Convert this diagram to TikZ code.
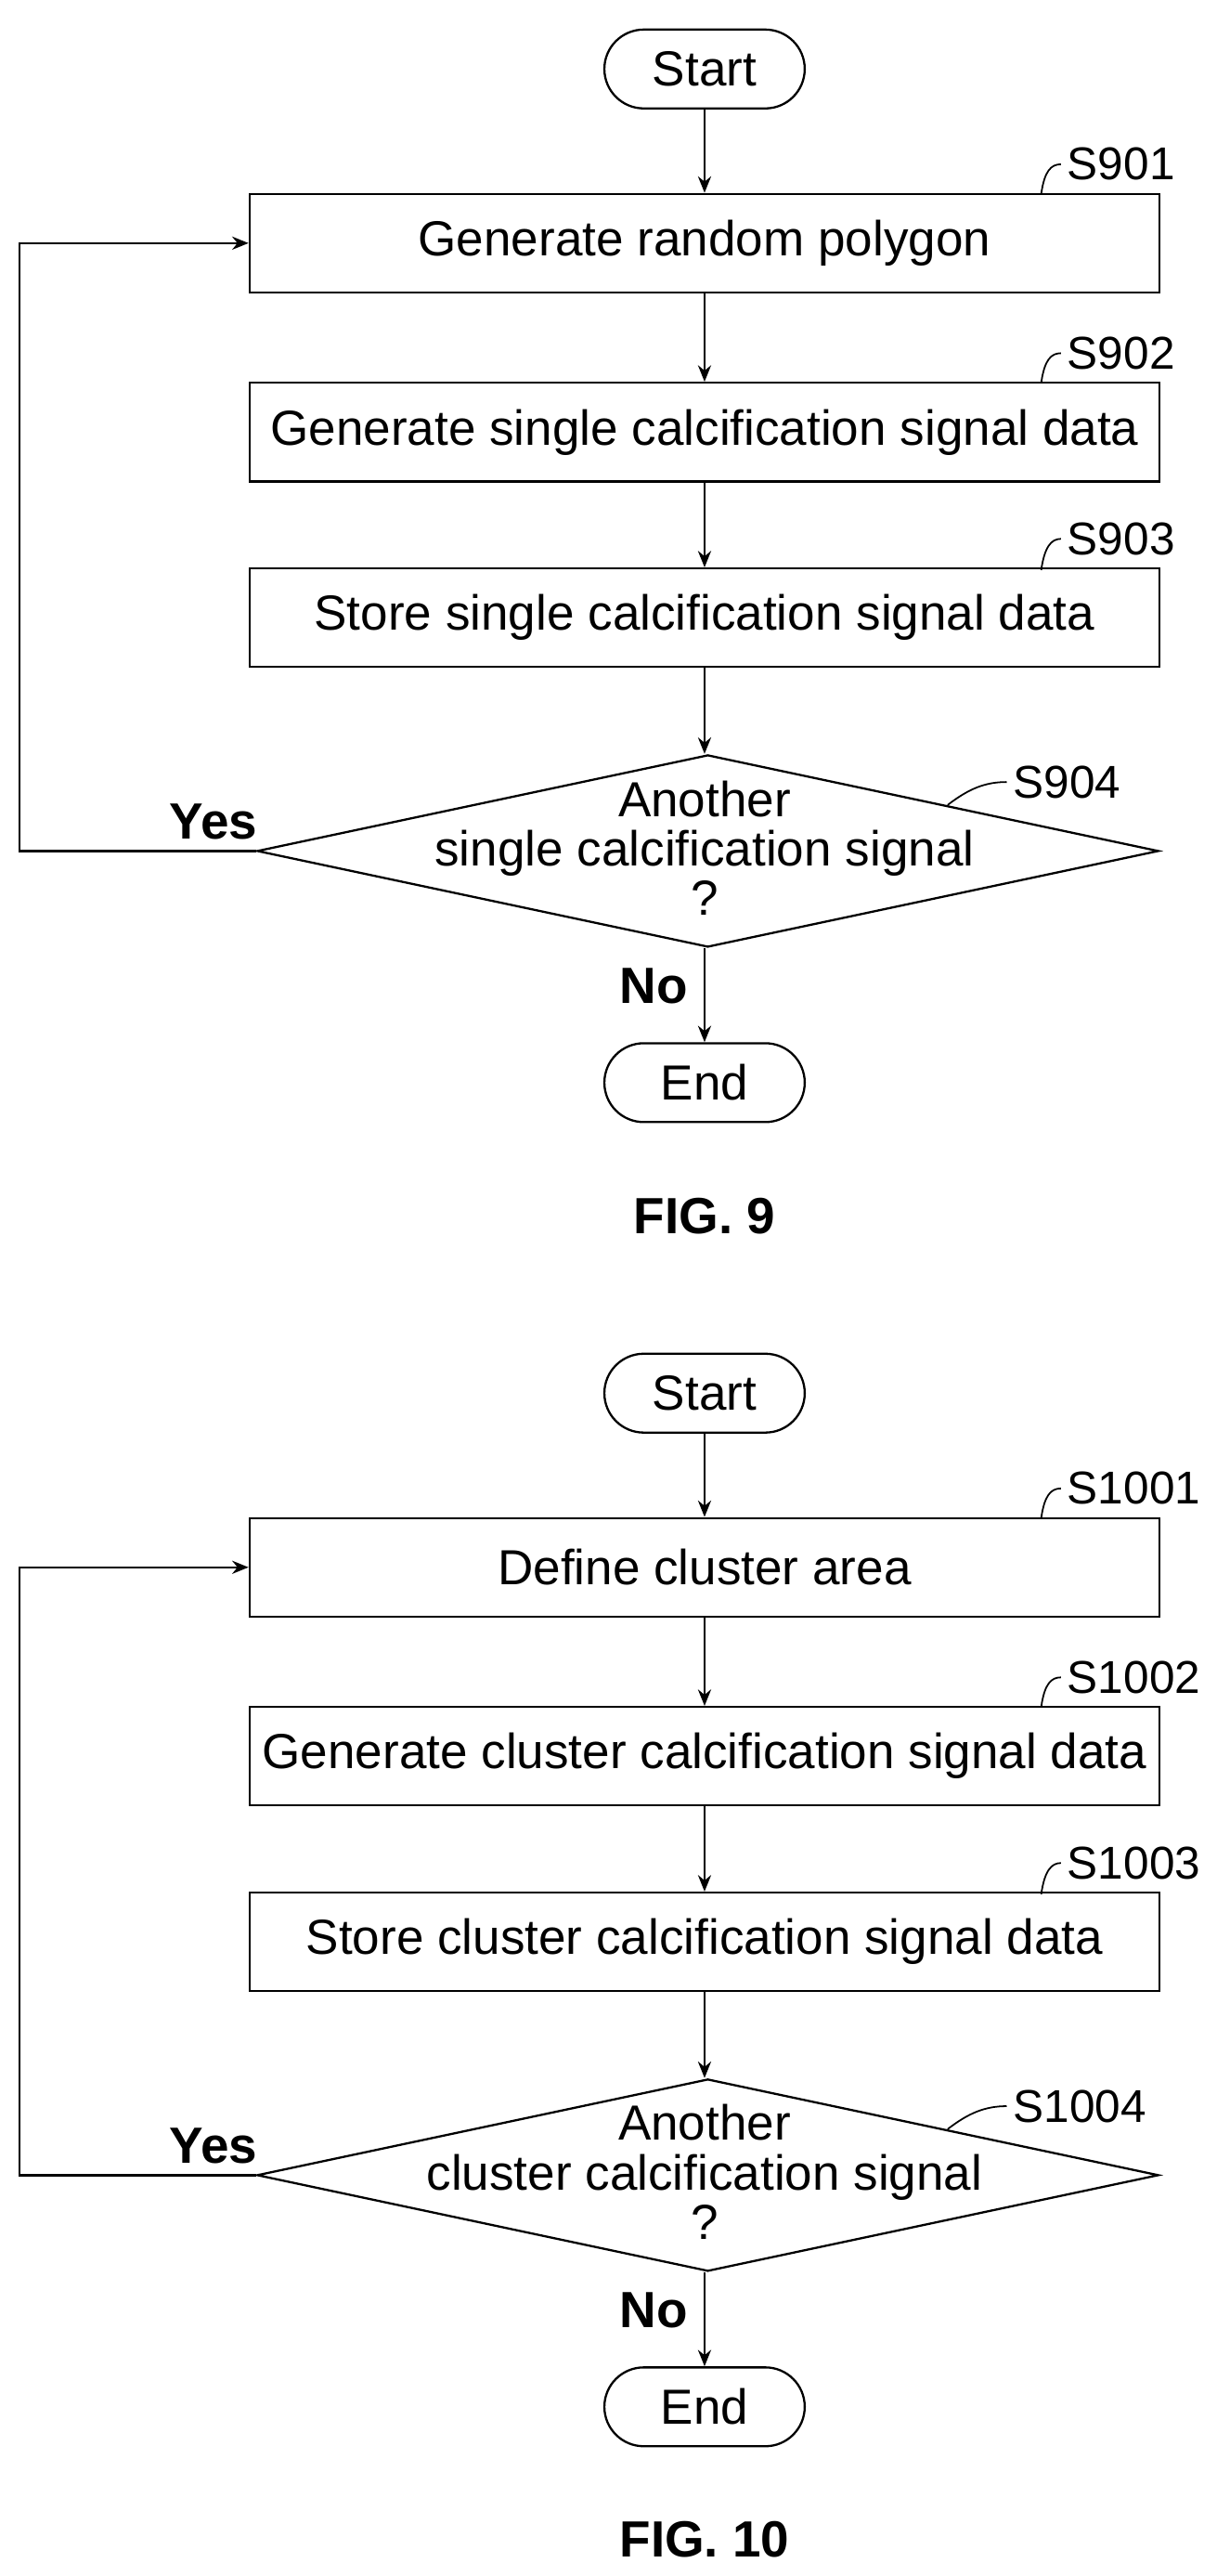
\documentclass[tikz,border=0pt]{standalone}
\usepackage{fontspec}
\setmainfont{Liberation Sans}
\usetikzlibrary{shapes.geometric,arrows.meta}
\begin{document}
\begin{tikzpicture}[x=1pt,y=-1pt,line width=1.3pt,
  txt/.style={font=\fontsize{30}{34}\selectfont},
  box/.style={draw,txt,minimum width=554pt,minimum height=60pt,inner sep=0pt},
  pill/.style={draw,txt,rounded corners=24pt,minimum width=122pt,minimum height=48pt,inner sep=0pt},
  dia/.style={draw,diamond,aspect=4.7,minimum width=549pt,minimum height=117pt,inner sep=0pt},
  arr/.style={-{Stealth[length=10pt,width=8pt]}},
  lbl/.style={font=\fontsize{28}{32}\selectfont},
  bold/.style={font=\fontsize{31}{34}\selectfont\bfseries}]
\useasboundingbox (0,0) rectangle (741,1568);
\foreach \o/\f/\sa/\sb/\sc/\sd/\ta/\tb/\tc/\td in {
 0/9/S901/S902/S903/S904/{Generate random polygon}/{Generate single calcification signal data}/{Store single calcification signal data}/{single calcification signal},
 806/10/S1001/S1002/S1003/S1004/{Define cluster area}/{Generate cluster calcification signal data}/{Store cluster calcification signal data}/{cluster calcification signal}}{
\begin{scope}[yshift=-\o pt]
\node[pill] (st\f) at (429,42) {Start};
\node[box] (a\f) at (429,148) {\ta};
\node[box] (b\f) at (429,263) {\tb};
\node[box] (c\f) at (429,376) {\tc};
\node[dia] (d\f) at (431,518) {};
\node[txt,align=center] at (429,516) {Another\\[-4pt]\td\\[-4pt]?};
\node[pill] (e\f) at (429,659) {End};
\node[bold] at (429,740) {FIG. \f};
\draw[arr] (st\f) -- (a\f);
\draw[arr] (a\f) -- (b\f);
\draw[arr] (b\f) -- (c\f);
\draw[arr] (c\f.south) -- (c\f.south |- d\f.north);
\draw[arr] (e\f.north |- d\f.south) -- (e\f);
\coordinate (y\f) at (12,518);
\coordinate (z\f) at (12,148);
\draw[arr] (d\f.west) -- (y\f) -- (z\f) -- (a\f.west);
\node[bold] at (130,500) {Yes};
\node[bold] at (398,600) {No};
\node[lbl,anchor=west] (la\f) at (646,100) {\sa};
\node[lbl,anchor=west] (lb\f) at (646,215) {\sb};
\node[lbl,anchor=west] (lc\f) at (646,328) {\sc};
\node[lbl,anchor=west] (ld\f) at (613,476) {\sd};
\draw[line width=1pt] (634,118) .. controls (636,104) and (640,100) .. (la\f.west);
\draw[line width=1pt] (634,233) .. controls (636,219) and (640,215) .. (lb\f.west);
\draw[line width=1pt] (634,347) .. controls (636,333) and (640,328) .. (lc\f.west);
\draw[line width=1pt] (577,490) .. controls (590,480) and (600,476) .. (ld\f.west);
\end{scope}}
\end{tikzpicture}
\end{document}
